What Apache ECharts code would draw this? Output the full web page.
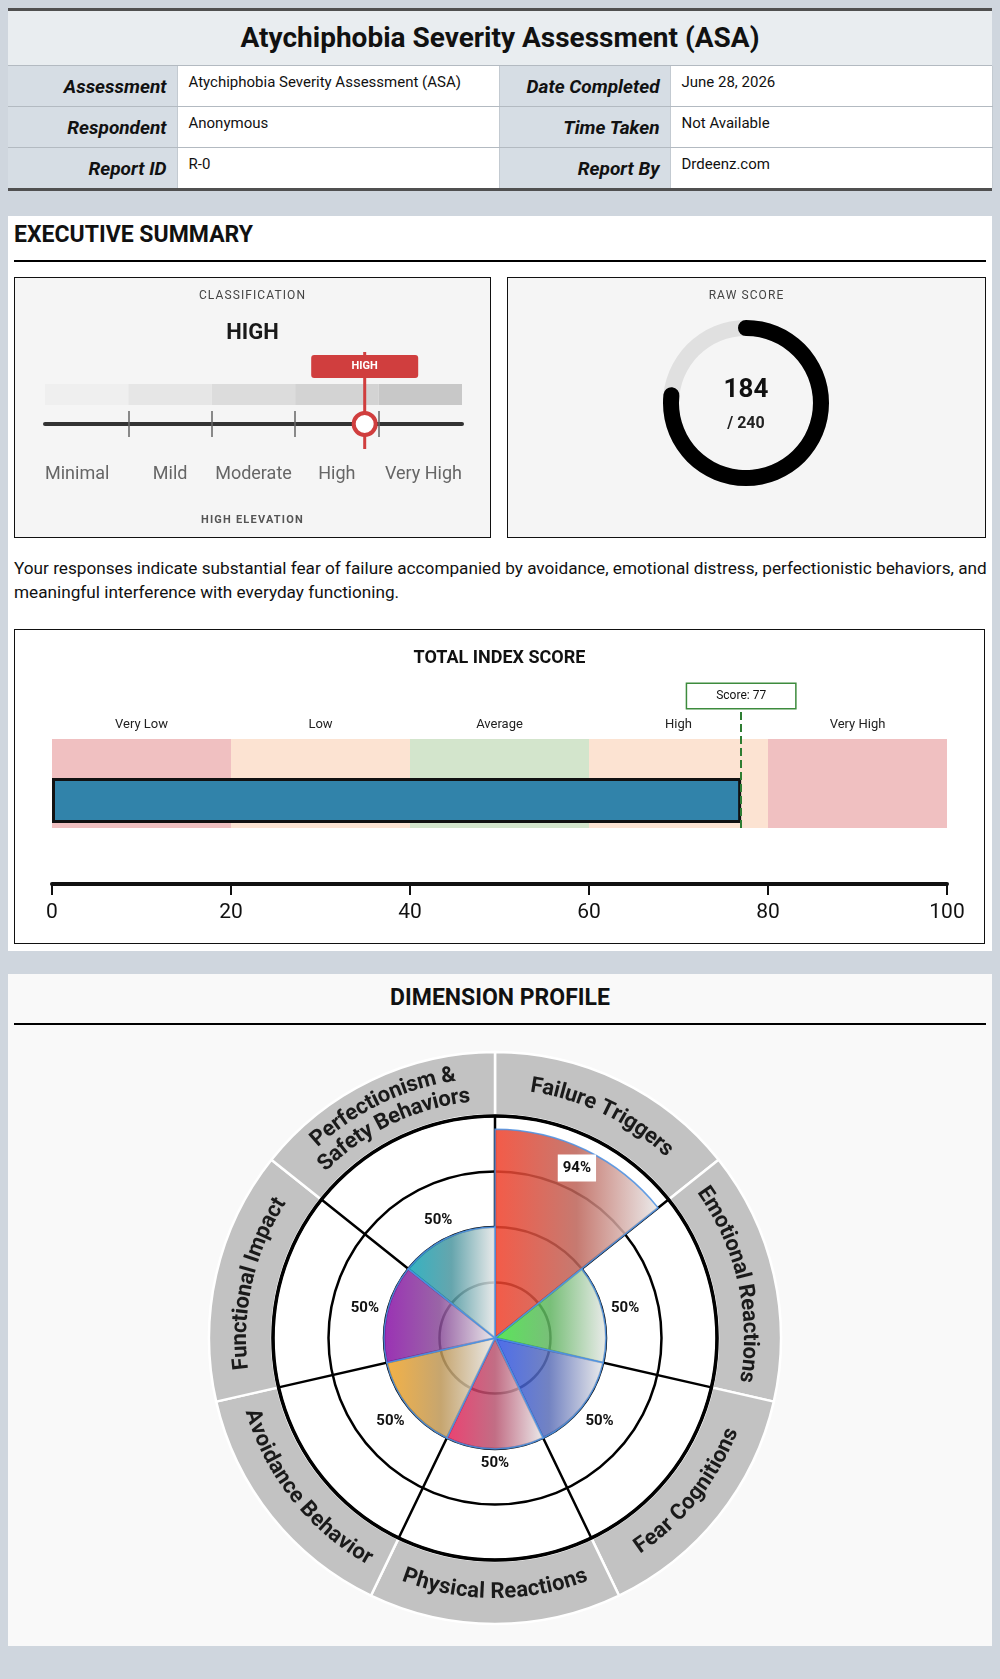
<!DOCTYPE html>
<html>
<head>
<meta charset="utf-8">
<script src="https://cdn.jsdelivr.net/npm/echarts@6/dist/echarts.min.js"></script>
<style>
  body { margin: 0; width: 1000px; height: 1679px; position: relative; background: #cfd6de; font-family: Roboto, 'Noto Sans', sans-serif; color: #111; }
  .abs { position: absolute; }
  #hdr { left: 8px; top: 8px; width: 984px; border-top: 3px solid #505050; border-bottom: 3px solid #505050; background: #fff; }
  #hdr .ttl { height: 54px; line-height: 54px; background: #e9edf0; text-align: center; font-weight: bold; font-size: 28px; border-bottom: 1px solid #b3bac1; }
  #hdr table { border-collapse: collapse; width: 984px; table-layout: fixed; }
  #hdr th { background: #d6dde4; text-align: right; font-style: italic; font-weight: bold; font-size: 19px; padding: 0 10px 0 0; height: 40px; border-bottom: 1px solid #b3bac1; }
  #hdr td { font-size: 15px; line-height: 17px; padding: 8px 0 0 11px; vertical-align: top; height: 32px; border-bottom: 1px solid #b3bac1; border-left: 1px solid #c3cad1; border-right: 1px solid #c3cad1; }
  #hdr tr:last-child th, #hdr tr:last-child td { border-bottom: none; }
  .panel { background: #fff; }
  .box { box-sizing: border-box; border: 1px solid #111; }
  .cap { text-align: center; font-size: 12px; line-height: 14px; letter-spacing: 1.1px; color: #444; z-index: 2; }
  .rule { height: 2px; background: #000; }
</style>
</head>
<body>

<div id="hdr" class="abs">
  <div class="ttl">Atychiphobia Severity Assessment (ASA)</div>
  <table>
    <colgroup><col style="width:169px"><col style="width:322px"><col style="width:171px"><col style="width:322px"></colgroup>
    <tr><th>Assessment</th><td>Atychiphobia Severity Assessment (ASA)</td><th>Date Completed</th><td>June 28, 2026</td></tr>
    <tr><th>Respondent</th><td>Anonymous</td><th>Time Taken</th><td>Not Available</td></tr>
    <tr><th>Report ID</th><td>R-0</td><th>Report By</th><td>Drdeenz.com</td></tr>
  </table>
</div>

<!-- 执行摘要 -->
<div class="abs panel" style="left:8px;top:216px;width:984px;height:735px;"></div>
<div class="abs" style="left:14px;top:222px;font-weight:bold;font-size:23px;line-height:26px;">EXECUTIVE SUMMARY</div>
<div class="abs rule" style="left:14px;top:260px;width:972px;"></div>

<div class="abs box" style="left:14px;top:277px;width:477px;height:261px;background:#f5f5f5;"></div>
<div id="levelChart" class="abs" style="left:15px;top:278px;width:475px;height:259px;"></div>
<div class="abs cap" style="left:14px;top:288px;width:477px;">CLASSIFICATION</div>
<div id="levelTitle" class="abs" style="left:14px;top:319px;width:477px;text-align:center;font-weight:bold;font-size:22px;line-height:26px;color:#1a1a1a;z-index:2;"></div>
<div id="levelNote" class="abs" style="left:14px;top:513px;width:477px;text-align:center;font-weight:bold;font-size:11px;line-height:14px;letter-spacing:1.2px;color:#555;z-index:2;"></div>

<div class="abs box" style="left:507px;top:277px;width:479px;height:261px;background:#f5f5f5;"></div>
<div id="rawChart" class="abs" style="left:508px;top:278px;width:477px;height:259px;"></div>
<div class="abs cap" style="left:507px;top:288px;width:479px;">RAW SCORE</div>

<div class="abs" style="left:14px;top:557px;width:980px;font-size:17.2px;line-height:23.5px;color:#111;">Your responses indicate substantial fear of failure accompanied by avoidance, emotional distress, perfectionistic behaviors, and meaningful interference with everyday functioning.</div>

<div class="abs box" style="left:14px;top:629px;width:971px;height:315px;background:#fff;"></div>
<div id="indexChart" class="abs" style="left:15px;top:630px;width:969px;height:313px;"></div>

<!-- 维度剖面 -->
<div class="abs" style="left:8px;top:974px;width:984px;height:672px;background:#f9f9f9;"></div>
<div class="abs" style="left:8px;top:985px;width:984px;text-align:center;font-weight:bold;font-size:23px;line-height:26px;">DIMENSION PROFILE</div>
<div class="abs rule" style="left:14px;top:1023px;width:972px;"></div>
<div id="dimChart" class="abs" style="left:8px;top:1030px;width:984px;height:616px;"></div>

<script>
const FONT = 'Roboto';

// ==================== 数据 ====================

// 分级量表
const levelNames = ['Minimal', 'Mild', 'Moderate', 'High', 'Very High'];
const levelBounds = [0, 48, 96, 144, 192, 240];
const levelColors = ['#efefef', '#e6e6e6', '#dcdcdc', '#d3d3d3', '#c8c8c8'];

// 原始分
const rawScore = 184;
const rawMax = 240;

// 总指数
const indexBands = ['Very Low', 'Low', 'Average', 'High', 'Very High'];
const indexEdges = [0, 20, 40, 60, 80, 100];
const indexBandColors = ['#f0c0c1', '#fce3d2', '#d3e5cc', '#fce3d2', '#f0c0c1'];
const indexScore = 77;

// 维度
const dimNames = ['Failure Triggers', 'Emotional Reactions', 'Fear Cognitions', 'Physical Reactions',
  'Avoidance Behavior', 'Functional Impact', 'Perfectionism &\nSafety Behaviors'];
const dimValues = [94, 50, 50, 50, 50, 50, 50];
const dimColors = ['#f2402a', '#3ee23e', '#2f55e8', '#e8235a', '#f2a528', '#8a0fa8', '#12a6b8'];

// ==================== 工具函数 ====================

const measureCtx = document.createElement('canvas').getContext('2d');

function textWidth(text, font) {
  measureCtx.font = font;
  return measureCtx.measureText(text).width;
}

function mix(hexA, hexB, t) {
  const a = parseInt(hexA.slice(1), 16), b = parseInt(hexB.slice(1), 16);
  const out = [16, 8, 0].map(s => {
    const x = (a >> s) & 255, y = (b >> s) & 255;
    return Math.round(x + (y - x) * t);
  });
  return 'rgb(' + out.join(',') + ')';
}

function barGradient(hex) {
  return {
    type: 'linear', x: 0, y: 0, x2: 1, y2: 0,
    colorStops: [
      { offset: 0, color: hex },
      { offset: 0.5, color: mix(hex, '#888888', 0.5) },
      { offset: 1, color: '#e8e8e8' }
    ]
  };
}

function levelOf(score) {
  for (let i = 0; i < levelNames.length; i++) {
    if (score >= levelBounds[i] && score < levelBounds[i + 1]) return i;
  }
  return levelNames.length - 1;
}

// ==================== 分级图 ====================

const levelIdx = levelOf(rawScore);
document.getElementById('levelTitle').textContent = levelNames[levelIdx].toUpperCase();
document.getElementById('levelNote').textContent = levelNames[levelIdx].toUpperCase() + ' ELEVATION';

const levelLabelPos = levelNames.map((n, i) => {
  if (i === 0) return levelBounds[0];
  if (i === levelNames.length - 1) return levelBounds[levelBounds.length - 1];
  return (levelBounds[i] + levelBounds[i + 1]) / 2;
});
const innerTicks = levelBounds.slice(1, -1);

const levelChart = echarts.init(document.getElementById('levelChart'));
levelChart.setOption({
  animation: false,
  textStyle: { fontFamily: FONT },
  grid: { left: 30, right: 28, top: 87, bottom: 113 },
  xAxis: [{
    type: 'value', min: levelBounds[0], max: levelBounds[levelBounds.length - 1], position: 'bottom',
    axisLine: { show: true, lineStyle: { color: '#333', width: 4 } },
    axisTick: { show: true, customValues: innerTicks, length: 13, lineStyle: { color: '#666', width: 1.5 } },
    axisLabel: {
      show: true, customValues: levelLabelPos, margin: 41, fontSize: 18, color: '#666',
      alignMinLabel: 'left', alignMaxLabel: 'right',
      formatter: v => levelNames[levelLabelPos.indexOf(v)] || ''
    },
    splitLine: { show: false }
  }, {
    type: 'value', min: levelBounds[0], max: levelBounds[levelBounds.length - 1], position: 'bottom',
    axisLine: { show: false },
    axisTick: { show: true, inside: true, customValues: innerTicks, length: 13, lineStyle: { color: '#666', width: 1.5 } },
    axisLabel: { show: false },
    splitLine: { show: false }
  }],
  yAxis: { type: 'category', data: ['level'], show: false },
  series: levelNames.map((name, i) => ({
    type: 'bar', name, stack: 'lv', barWidth: 21, silent: true, z: 1,
    data: [levelBounds[i + 1] - levelBounds[i]],
    itemStyle: { color: levelColors[i] }
  })).concat([{
    type: 'custom', silent: true, z: 5,
    data: [[rawScore, 0]],
    encode: { x: 0, y: 1 },
    renderItem: (params, api) => {
      const p = api.coord([api.value(0), 0]);
      const axisY = p[1] + api.size([0, 1])[1] / 2;
      const red = '#d03e3e';
      return {
        type: 'group',
        children: [
          { type: 'line', shape: { x1: p[0], y1: axisY - 72, x2: p[0], y2: axisY + 25 }, style: { stroke: red, lineWidth: 3 } },
          { type: 'rect', shape: { x: p[0] - 53.5, y: axisY - 69, width: 107, height: 23, r: 3 }, style: { fill: red } },
          { type: 'text', x: p[0], y: axisY - 57.5, style: { text: levelNames[levelIdx].toUpperCase(), fill: '#fff', fontSize: 11, fontWeight: 'bold', fontFamily: FONT, align: 'center', verticalAlign: 'middle' } },
          { type: 'circle', shape: { cx: p[0], cy: axisY, r: 11 }, style: { fill: '#fff', stroke: red, lineWidth: 4 } }
        ]
      };
    }
  }])
});

// ==================== 原始分环 ====================

const rawChart = echarts.init(document.getElementById('rawChart'));
rawChart.setOption({
  animation: false,
  textStyle: { fontFamily: FONT },
  series: [{
    type: 'gauge', center: [238, 125], radius: 83,
    startAngle: 90, endAngle: -270, min: 0, max: rawMax,
    pointer: { show: false },
    axisLine: { lineStyle: { width: 16, color: [[1, '#e0e0e0']] } },
    progress: { show: true, width: 16, roundCap: true, itemStyle: { color: '#000' } },
    axisTick: { show: false }, splitLine: { show: false }, axisLabel: { show: false },
    title: { show: false },
    detail: {
      offsetCenter: [0, 4],
      formatter: v => '{a|' + v + '}\n{b|/ ' + rawMax + '}',
      rich: {
        a: { fontSize: 26, fontWeight: 'bold', color: '#111', lineHeight: 33, fontFamily: FONT },
        b: { fontSize: 16, color: '#222', lineHeight: 33, fontFamily: FONT }
      }
    },
    data: [{ value: rawScore }]
  }]
});

// ==================== 总指数 ====================

const indexChart = echarts.init(document.getElementById('indexChart'));
indexChart.setOption({
  animation: false,
  textStyle: { fontFamily: FONT },
  title: { text: 'TOTAL INDEX SCORE', left: 'center', top: 14, textStyle: { fontSize: 18, fontWeight: 'bold', color: '#111', fontFamily: FONT } },
  grid: [
    { left: 37, right: 37, top: 109, height: 89 },
    { left: 37, right: 37, top: 87, bottom: 59 },
    { left: 37, right: 37, top: 78, height: 120 }
  ],
  xAxis: [
    { gridIndex: 0, type: 'value', min: 0, max: 100, show: false },
    {
      gridIndex: 1, type: 'value', min: 0, max: 100, interval: 20,
      axisLine: { show: true, lineStyle: { color: '#111', width: 4 } },
      axisTick: { show: true, length: 11, lineStyle: { color: '#111', width: 2 } },
      axisLabel: { fontSize: 21, color: '#111', margin: 18 },
      splitLine: { show: false }
    },
    { gridIndex: 2, type: 'value', min: 0, max: 100, show: false }
  ],
  yAxis: [
    { gridIndex: 0, type: 'category', data: ['bands'], show: false },
    { gridIndex: 1, type: 'category', data: ['score'], show: false },
    { gridIndex: 2, type: 'value', min: 0, max: 1, show: false }
  ],
  series: indexBands.map((name, i) => ({
    type: 'bar', name, xAxisIndex: 0, yAxisIndex: 0, stack: 'bands', barWidth: '100%', silent: true,
    data: [indexEdges[i + 1] - indexEdges[i]],
    itemStyle: { color: indexBandColors[i] },
    label: { show: true, position: 'top', distance: 8, formatter: name, fontSize: 13, color: '#222' }
  })).concat([
    {
      type: 'bar', xAxisIndex: 1, yAxisIndex: 1, data: [indexScore], barWidth: 45, silent: true,
      itemStyle: { color: '#3183aa', borderColor: '#111', borderWidth: 3 }
    },
    {
      type: 'line', xAxisIndex: 2, yAxisIndex: 2, data: [], silent: true,
      markLine: {
        silent: true, symbol: ['none', 'none'],
        data: [{ xAxis: indexScore }],
        lineStyle: { type: 'dashed', color: '#2e7d32', width: 2 },
        label: {
          show: true, position: 'end', distance: 0, formatter: 'Score: ' + indexScore,
          backgroundColor: '#fff', borderColor: '#3d8b3d', borderWidth: 1.5,
          padding: [6, 29, 6, 29], fontSize: 12, color: '#111'
        }
      }
    }
  ])
});

// ==================== 维度剖面 ====================

const RING_LABEL_R = 114.6;   // 外环文字半径 (径向轴单位)
const RING_LINE_GAP = 23;
const RING_FONT_SIZE = 22;
const RING_FONT = 'bold ' + RING_FONT_SIZE + 'px ' + FONT;
const PCT_FONT_SIZE = 15;

// 沿圆弧逐字排布的维度名
function renderArcLabel(params, api) {
  const i = params.dataIndex;
  const c = api.coord([0, i]);
  const p = api.coord([api.value(0), i]);
  const r100 = Math.hypot(p[0] - c[0], p[1] - c[1]);
  const aMid = Math.atan2(p[1] - c[1], p[0] - c[0]);
  const lower = Math.sin(aMid) > 0.05;
  const lines = dimNames[i].split('\n');
  const baseR = r100 * RING_LABEL_R / 100;
  const children = [];
  lines.forEach((line, k) => {
    const off = ((lines.length - 1) / 2 - k) * RING_LINE_GAP;
    const R = lower ? baseR - off : baseR + off;
    const chars = Array.from(line);
    const widths = chars.map(ch => textWidth(ch, RING_FONT));
    const total = widths.reduce((s, w) => s + w, 0);
    let cum = 0;
    chars.forEach((ch, j) => {
      const d = (cum + widths[j] / 2 - total / 2) / R;
      cum += widths[j];
      const a = lower ? aMid - d : aMid + d;
      children.push({
        type: 'text',
        x: c[0] + R * Math.cos(a),
        y: c[1] + R * Math.sin(a),
        rotation: lower ? -(a - Math.PI / 2) : -(a + Math.PI / 2),
        style: { text: ch, fill: '#1a1a1a', fontSize: RING_FONT_SIZE, fontWeight: 'bold', fontFamily: FONT, align: 'center', verticalAlign: 'middle' }
      });
    });
  });
  return { type: 'group', children };
}

// 百分比标签
function renderPct(params, api) {
  const i = params.dataIndex;
  const v = api.value(0);
  const c = api.coord([0, i]);
  const e = api.coord([v, i]);
  const dx = e[0] - c[0], dy = e[1] - c[1];
  const rEnd = Math.hypot(dx, dy);
  const ux = dx / rEnd, uy = dy / rEnd;
  const text = v + '%';
  const w = textWidth(text, 'bold ' + PCT_FONT_SIZE + 'px ' + FONT);
  const ext = Math.abs(ux) * w / 2 + Math.abs(uy) * PCT_FONT_SIZE / 2;
  const inside = v >= 85;
  const r = inside ? rEnd - 7 - ext : rEnd + 7 + ext;
  const style = { text, fill: '#111', fontSize: PCT_FONT_SIZE, fontWeight: 'bold', fontFamily: FONT, align: 'center', verticalAlign: 'middle' };
  if (inside) { style.backgroundColor = '#fff'; style.padding = [6, 5]; }
  return { type: 'text', x: c[0] + ux * r, y: c[1] + uy * r, style };
}

const dimChart = echarts.init(document.getElementById('dimChart'));
dimChart.setOption({
  animation: false,
  textStyle: { fontFamily: FONT },
  polar: { center: [487, 308], radius: 222 },
  angleAxis: {
    type: 'category', data: dimNames, startAngle: 90, clockwise: true, z: 1,
    axisLine: { show: true, lineStyle: { color: '#000', width: 3.5 } },
    axisTick: { show: false }, axisLabel: { show: false },
    splitLine: { show: true, lineStyle: { color: '#000', width: 2.5 } },
    splitArea: { show: false }
  },
  radiusAxis: {
    type: 'value', min: 0, max: 100, interval: 25, z: 1,
    axisLine: { show: false }, axisTick: { show: false }, axisLabel: { show: false },
    splitLine: { show: true, lineStyle: { color: '#000', width: 2.5 } }
  },
  series: [
    {
      // 白色底盘
      type: 'pie', center: [487, 308], radius: [0, 222], silent: true, z: 0,
      label: { show: false }, labelLine: { show: false },
      itemStyle: { color: '#fff' },
      data: [{ name: 'bg', value: 1 }]
    },
    {
      type: 'pie', center: [487, 308], radius: [223, 286], startAngle: 90, silent: true, z: 0,
      label: { show: false }, labelLine: { show: false },
      itemStyle: { color: '#c2c2c2', borderColor: '#fff', borderWidth: 2.5 },
      data: dimNames.map(n => ({ name: n, value: 1 }))
    },
    {
      type: 'bar', coordinateSystem: 'polar', barCategoryGap: '0%', silent: true, z: 2,
      itemStyle: { borderColor: '#4a90e2', borderWidth: 1.5, opacity: 0.86 },
      data: dimValues.map((v, i) => ({ value: v, itemStyle: { color: barGradient(dimColors[i]) } }))
    },
    {
      type: 'custom', coordinateSystem: 'polar', silent: true, z: 5,
      encode: { radius: 0, angle: 1 },
      data: dimValues.map((v, i) => [v, i]),
      renderItem: renderPct
    },
    {
      type: 'custom', coordinateSystem: 'polar', silent: true, z: 5,
      encode: { radius: 0, angle: 1 },
      data: dimNames.map((n, i) => [100, i]),
      renderItem: renderArcLabel
    }
  ]
});
</script>
</body>
</html>
